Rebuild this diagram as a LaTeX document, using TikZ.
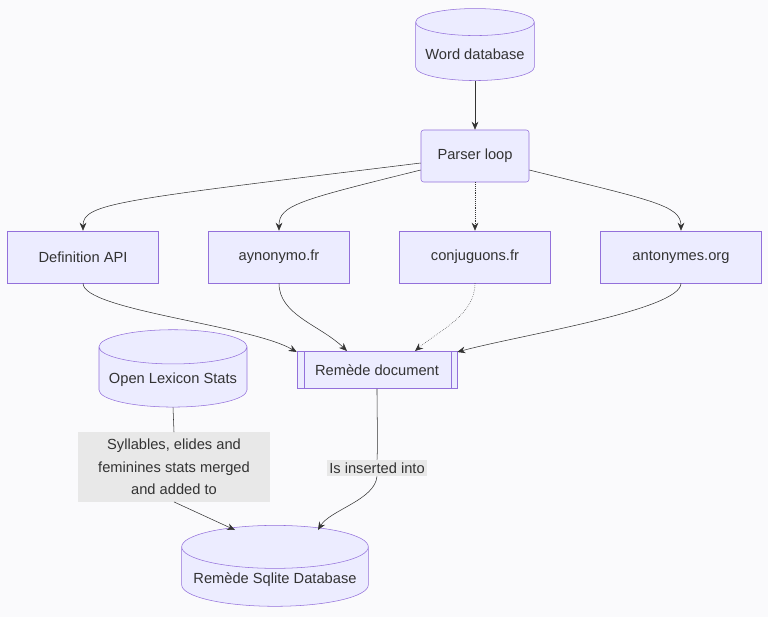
\documentclass[tikz,border=0pt]{standalone}
\usepackage{fontspec}
\setmainfont{Liberation Sans}
\usetikzlibrary{shapes.geometric,arrows.meta}
\definecolor{nodefill}{HTML}{ECECFF}
\definecolor{nodeline}{HTML}{9370DB}
\definecolor{edgecol}{HTML}{333333}
\definecolor{lblfill}{HTML}{E8E8E8}
\tikzset{
  box/.style={draw=nodeline,fill=nodefill,font=\fontsize{11}{13}\selectfont,text=edgecol},
  proc/.style={box,rectangle,minimum width=113pt,minimum height=39pt},
  db/.style={box,cylinder,shape border rotate=90,aspect=0.25},
  flow/.style={draw=edgecol,-{Stealth[length=6pt,width=5pt]}},
  lbl/.style={fill=lblfill,font=\fontsize{11}{17}\selectfont,text=edgecol,align=center,inner sep=2pt}
}
\begin{document}
\begin{tikzpicture}[x=0.75pt,y=-0.75pt]
\useasboundingbox[fill={rgb,255:red,250;green,250;blue,252}] (0,0) rectangle (768,617);
\node[db,minimum width=89pt,minimum height=54pt] (word) at (475,54) {Word database};
\node[box,rounded corners=2pt,minimum width=81pt,minimum height=39pt] (parser) at (475,156) {Parser loop};
\node[proc] (def) at (83,257) {Definition API};
\node[proc,minimum width=106pt] (ayn) at (279,257) {aynonymo.fr};
\node[proc] (conj) at (475,257) {conjuguons.fr};
\node[proc,minimum width=121pt] (ant) at (681,257) {antonymes.org};
\node[box,rectangle,minimum width=120pt,minimum height=28pt] (doc) at (377,370) {Remède document};
\draw[nodeline] (304,351) -- (304,389) (451,351) -- (451,389);
\node[db,minimum width=111pt,minimum height=58pt] (lex) at (173,380) {Open Lexicon Stats};
\node[db,minimum width=140pt,minimum height=58pt] (sql) at (275,580) {Remède Sqlite Database};
\node[lbl,minimum width=144pt,minimum height=52pt] (merge) at (174,467) {Syllables, elides and\\feminines stats merged\\and added to};
\node[lbl] (ins) at (377,468) {Is inserted into};

\path[flow] (word) -- (parser);
\path[flow] (parser.west|-0,163) .. controls (120,200) and (83,203) .. (def.north);
\path[flow] (parser.west|-0,170) .. controls (300,200) and (279,205) .. (ayn.north);
\path[flow,densely dotted] (parser) -- (conj);
\path[flow] (parser.east|-0,170) .. controls (650,200) and (681,205) .. (ant.north);
\path[flow] (def.south) .. controls (83,310) and (250,325) .. (doc.west|-0,352);
\path[flow] (ayn.south) .. controls (279,315) and (320,325) .. (347,351);
\path[flow,densely dotted] (conj.south) .. controls (475,315) and (440,330) .. (415,351);
\path[flow] (ant.south) .. controls (681,310) and (520,335) .. (doc.east|-0,352);
\draw[edgecol] (lex.south) -- (merge.north);
\path[flow] (merge.south) -- (235,530);
\draw[edgecol] (doc.south) .. controls (377,420) and (378,440) .. (ins.north);
\path[flow] (ins.south) .. controls (375,500) and (330,510) .. (318,530);
\end{tikzpicture}
\end{document}
